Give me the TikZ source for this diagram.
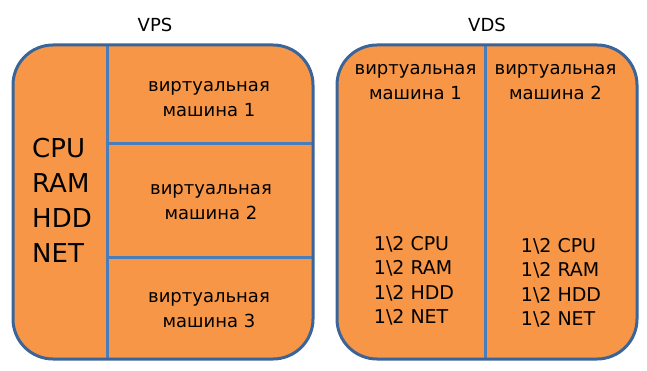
\documentclass[tikz,border=0pt]{standalone}
\usepackage{fontspec}
\setmainfont{DejaVu Sans}
\definecolor{boxfill}{HTML}{F79646}
\definecolor{boxline}{HTML}{3B6598}
\definecolor{divline}{HTML}{4A7EBB}
\tikzset{
  panel/.style={draw=boxline, line width=3pt, rounded corners=40pt},
  divider/.style={draw=divline, line width=3pt},
  lbl/.style={align=center, inner sep=0pt, font=\fontsize{18}{25}\selectfont},
  big/.style={align=left, inner sep=0pt, font=\fontsize{26}{35}\selectfont},
  res/.style={align=left, inner sep=0pt, font=\fontsize{19}{24.5}\selectfont},
}
\begin{document}
\begin{tikzpicture}[x=1pt, y=-1pt]
\useasboundingbox (0,0) rectangle (647,371);
% VPS panel
\fill[boxfill, rounded corners=40pt] (13,45) rectangle (313,359);
\coordinate (a1) at (107,45);
\coordinate (a2) at (107,359);
\coordinate (h1l) at (107,144);
\coordinate (h1r) at (313,144);
\coordinate (h2l) at (107,257);
\coordinate (h2r) at (313,257);
\draw[divider] (a1) -- (a2);
\draw[divider] (h1l) -- (h1r);
\draw[divider] (h2l) -- (h2r);
\draw[panel] (13,45) rectangle (313,359);
% VDS panel
\fill[boxfill, rounded corners=40pt] (337,45) rectangle (637,359);
\coordinate (b1) at (485,45);
\coordinate (b2) at (485,359);
\draw[divider] (b1) -- (b2);
\draw[panel] (337,45) rectangle (637,359);
% titles
\node[lbl] (vps) at (155,25) {VPS};
\node[lbl] (vds) at (487,25) {VDS};
% VPS content
\node[big, anchor=west] (res) at (32,200) {CPU\\RAM\\HDD\\NET};
\node[lbl] (vm1) at (209,99) {виртуальная\\машина 1};
\node[lbl] (vm2) at (211,202) {виртуальная\\машина 2};
\node[lbl] (vm3) at (209,310) {виртуальная\\машина 3};
% VDS content
\node[lbl] (dvm1) at (415.5,82) {виртуальная\\машина 1};
\node[lbl] (dvm2) at (555.5,82) {виртуальная\\машина 2};
\node[res] (dres1) at (414,281) {1\textbackslash 2 CPU\\1\textbackslash 2 RAM\\1\textbackslash 2 HDD\\1\textbackslash 2 NET};
\node[res] (dres2) at (561,283) {1\textbackslash 2 CPU\\1\textbackslash 2 RAM\\1\textbackslash 2 HDD\\1\textbackslash 2 NET};
\end{tikzpicture}
\end{document}
